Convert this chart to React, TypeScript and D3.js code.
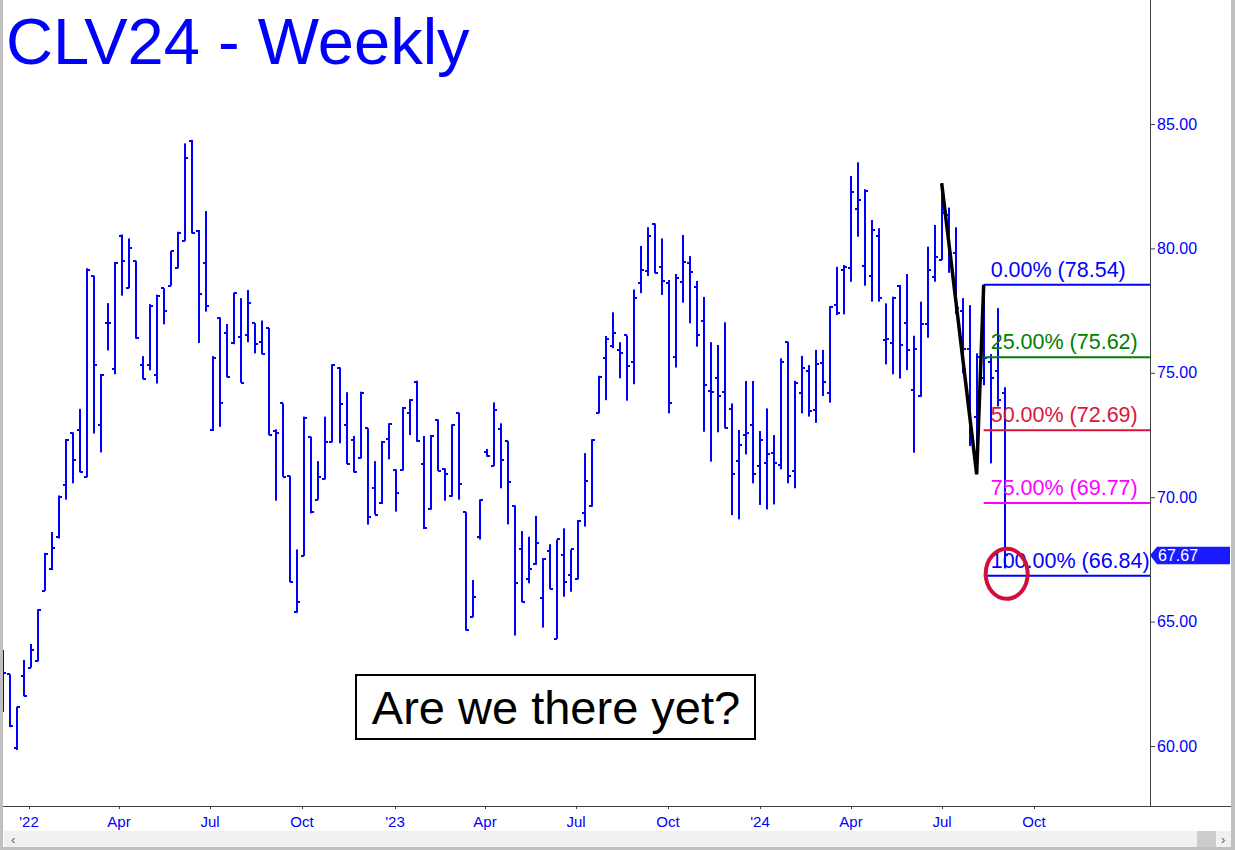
import React from "react";
import * as d3 from "d3";

// Weekly OHLC, CLV24 (first bar week of 6 Dec 2021)
const opens = [63.5,62.88,59.9,62.8,63.15,63.4,66.25,67.1,68.4,70.5,72.6,72.7,70.8,78.9,72.9,77.0,75.15,80.5,78.4,79.5,75.3,75.3,74.9,78.4,78.5,79.2,80.3,84.3,80.7,79.4,72.7,77.2,76.59,76.2,76.45,76.52,77.0,76.24,76.8,72.67,73.77,70.86,65.39,67.64,72.4,69.9,70.75,72.2,75.2,72.9,72.3,71.58,72.77,70.36,69.75,72.33,71.1,71.1,73.4,74.65,71.32,69.52,73.1,71.15,70.03,73.4,69.4,65.2,68.4,71.8,71.26,72.74,72.25,69.65,67.9,66.71,67.3,65.94,67.84,64.32,67.68,66.87,66.7,69.35,69.65,73.4,75.58,76.08,75.92,76.5,75.43,78.62,79.09,81.0,79.24,78.6,75.65,78.66,79.4,78.44,77.08,74.28,74.78,74.22,73.54,71.45,72.5,72.9,71.27,71.38,71.77,71.3,76.25,71.05,74.2,75.07,73.5,75.38,74.17,77.72,79.15,79.2,81.57,79.3,78.89,80.5,76.32,76.2,78.5,76.99,74.31,74.05,76.96,78.86,79.55,81.34,79.8,77.5,75.94,73.24,74.8,75.45,75.09,74.2];
const highs = [63.86,62.88,61.58,63.46,64.1,65.5,67.76,68.6,70.07,72.34,72.6,73.55,79.2,78.9,74.95,77.8,79.45,80.56,80.4,79.5,75.67,77.76,78.14,78.4,79.9,80.67,84.22,84.36,80.74,81.5,75.67,77.23,76.96,78.22,78.0,78.33,77.0,77.1,76.8,72.73,73.77,70.86,67.9,73.24,72.43,71.45,73.24,75.34,75.22,74.22,72.46,74.24,72.77,71.45,72.26,72.97,71.12,73.62,73.94,74.68,72.46,72.5,73.13,71.16,72.93,73.4,69.4,66.67,69.91,71.94,73.81,72.97,72.26,69.67,68.64,68.41,69.25,67.55,68.11,68.3,68.75,67.9,69.08,71.77,72.33,74.88,76.48,77.43,76.23,76.5,78.35,80.1,80.85,81.0,80.4,78.73,78.97,80.54,79.69,78.69,78.05,76.23,76.12,77.03,73.77,72.7,74.67,74.67,72.66,73.57,72.5,75.58,76.25,74.68,75.68,75.31,75.92,75.92,77.68,79.26,79.33,82.91,83.46,82.38,81.14,80.81,77.79,78.06,78.53,78.97,76.49,77.86,80.07,80.94,82.62,81.64,80.85,78.0,77.72,75.78,78.54,75.75,77.6,74.42];
const lows = [61.37,60.76,59.84,62.0,63.15,63.4,66.23,67.07,68.34,69.9,70.56,71.0,70.8,72.56,71.8,75.9,74.94,78.1,78.4,76.37,74.75,75.1,74.57,76.95,78.5,79.2,80.3,80.6,76.2,77.46,72.66,72.83,74.82,76.15,74.6,76.23,75.78,75.74,72.5,69.86,70.82,66.58,65.36,67.64,69.35,69.9,70.72,72.2,72.17,71.33,70.99,71.56,68.9,69.3,69.73,71.52,69.42,71.07,72.5,72.23,68.72,69.5,71.06,69.86,70.02,69.9,64.64,65.17,68.3,71.63,71.25,70.36,68.91,64.44,65.78,66.54,67.28,64.76,66.31,64.3,66.0,66.2,66.7,68.82,69.62,73.37,73.9,75.99,74.78,73.88,74.54,78.2,78.89,79.0,78.13,73.37,75.21,77.82,76.99,76.05,72.63,71.43,72.61,72.77,69.28,69.11,71.72,70.56,69.69,69.51,69.71,71.12,70.56,70.36,73.37,73.24,72.99,74.07,73.8,77.32,77.35,78.66,80.47,78.5,77.86,77.86,75.34,74.94,74.77,75.11,71.79,74.04,76.41,78.66,79.53,79.02,77.36,74.98,72.06,70.92,74.5,71.36,73.65,67.14];
const closes = [62.93,60.8,61.55,62.0,63.84,65.45,67.7,67.95,70.0,72.3,71.5,71.0,79.15,75.3,74.9,77.0,79.4,79.5,80.0,76.4,74.75,77.7,78.1,77.5,79.9,80.6,83.62,80.6,78.16,77.68,75.6,73.8,74.82,78.2,74.6,77.8,76.15,75.74,72.5,72.6,70.82,66.6,65.78,73.2,69.4,70.83,72.23,75.3,73.75,71.33,71.0,74.2,69.2,69.3,72.2,72.95,70.16,73.6,73.9,72.25,68.75,72.45,71.06,70.92,72.9,70.52,64.65,65.98,69.9,71.65,73.5,71.5,70.6,66.54,65.78,67.1,68.15,67.5,66.31,68.3,66.58,67.9,69.05,70.65,72.3,74.85,76.35,76.59,75.78,75.27,77.99,79.13,80.5,79.0,78.69,73.8,78.8,79.47,79.06,76.52,74.51,74.22,74.07,72.77,70.93,72.1,72.57,70.93,72.3,71.72,71.36,75.42,70.85,74.58,75.18,73.46,75.35,74.62,77.65,77.39,79.25,82.28,81.95,82.3,80.74,78.0,76.36,78.0,76.12,75.92,75.94,76.96,79.13,79.64,81.41,79.8,77.6,75.95,72.3,75.65,75.6,74.78,73.9,67.67];

const yTicks = [60, 65, 70, 75, 80, 85];
const xTickDates = ["2022-01-01","2022-04-01","2022-07-01","2022-10-01","2023-01-01","2023-04-01","2023-07-01","2023-10-01","2024-01-01","2024-04-01","2024-07-01","2024-10-01"];
const xTickLabels = ["'22","Apr","Jul","Oct","'23","Apr","Jul","Oct","'24","Apr","Jul","Oct"];

// swing drawn in black: bar index and price
const swingIdx = [134, 139, 140];
const swingVals = [82.62, 70.92, 78.54];

const fibPct = ["0.00%", "25.00%", "50.00%", "75.00%", "100.00%"];
const fibLevels = [78.54, 75.62, 72.69, 69.77, 66.84];
const fibColors = ["#0000ff", "#008000", "#dc143c", "#ff00ff", "#0000ff"];

const lastPrice = 67.67;

const W = 1235, H = 850;
const BLUE = "#0000ff";
const FONT = "'Liberation Sans', Arial, sans-serif";

export default function App() {
  const start = new Date(2021, 11, 6);
  const dates = opens.map((_, i) => d3.timeDay.offset(start, 7 * i));
  const x = d3.scaleTime()
    .domain([dates[0], dates[dates.length - 1]])
    .range([3.4, 1004.7]);
  const y = d3.scaleLinear().domain([60, 85]).range([746, 124]);
  const axisX = 1150;
  const axisY = 806;

  const swingLine = d3.line<number>()
    .x((i) => x(dates[swingIdx[i]]))
    .y((i) => y(swingVals[i]))(swingIdx.map((_, i) => i));

  const fibX0 = x(dates[140]);
  const lastX = x(dates[dates.length - 1]);
  const lastY = y(lastPrice);

  return (
    <svg width={W} height={H} style={{ position: "fixed", left: 0, top: 0, background: "#fff" }}
      fontFamily={FONT}>
      <rect x={0} y={0} width={W} height={H} fill="#fff" />
      {/* title */}
      <text x={6} y={64} fontSize={65} fill={BLUE}>CLV24 - Weekly</text>

      {/* bars */}
      <g fill={BLUE}>
        {dates.map((d, i) => {
          const cx = Math.round(x(d));
          const yh = y(highs[i]);
          const yl = y(lows[i]);
          const yo = Math.round(y(opens[i]));
          const yc = Math.round(y(closes[i]));
          return (
            <g key={i}>
              <rect x={cx - 1} y={yh} width={2} height={Math.max(2, yl - yh)} />
              <rect x={cx - 3} y={yo - 1} width={3} height={2} />
              <rect x={cx} y={yc - 1} width={3} height={2} />
            </g>
          );
        })}
      </g>

      {/* fib levels */}
      {fibLevels.map((v, i) => (
        <g key={i}>
          <line x1={fibX0} x2={axisX} y1={y(v)} y2={y(v)} stroke={fibColors[i]} strokeWidth={2} />
          <text x={fibX0 + 7} y={y(v) - 8} fontSize={21.5} fill={fibColors[i]}>
            {`${fibPct[i]} (${v.toFixed(2)})`}
          </text>
        </g>
      ))}

      {/* swing line */}
      <path d={swingLine || ""} fill="none" stroke="#000" strokeWidth={3.5} strokeLinejoin="miter" />

      {/* red circle */}
      <ellipse cx={lastX + 2} cy={y(fibLevels[4]) - 2} rx={21} ry={25} fill="none" stroke="#d0103a" strokeWidth={4} />

      {/* right axis */}
      <line x1={axisX + 0.5} x2={axisX + 0.5} y1={0} y2={axisY} stroke="#404040" strokeWidth={1} />
      {yTicks.map((t) => (
        <g key={t}>
          <line x1={axisX} x2={axisX + 5} y1={y(t) + 0.5} y2={y(t) + 0.5} stroke="#404040" />
          <text x={axisX + 7} y={y(t) + 5.5} fontSize={16} fill={BLUE}>{t.toFixed(2)}</text>
        </g>
      ))}

      {/* last price marker */}
      <path d={`M${axisX},${lastY} L${axisX + 7},${lastY - 8.5} L1230,${lastY - 8.5} L1230,${lastY + 9} L${axisX + 7},${lastY + 9} Z`} fill="#1a1aff" />
      <text x={axisX + 8} y={lastY + 5.5} fontSize={16} fill="#fff">{lastPrice.toFixed(2)}</text>

      {/* bottom axis */}
      <line x1={0} x2={1231} y1={axisY + 0.5} y2={axisY + 0.5} stroke="#404040" strokeWidth={1} />
      {xTickDates.map((s, i) => {
        const px = Math.round(x(new Date(s + "T00:00:00")));
        return (
          <g key={s}>
            <line x1={px + 0.5} x2={px + 0.5} y1={axisY} y2={axisY + 3} stroke="#404040" />
            <text x={px} y={827} fontSize={15} fill={BLUE} textAnchor="middle">{xTickLabels[i]}</text>
          </g>
        );
      })}

      {/* annotation box */}
      <rect x={356} y={675} width={399} height={64} fill="#fff" stroke="#000" strokeWidth={2} />
      <text x={556} y={724} fontSize={47} fill="#000" textAnchor="middle">Are we there yet?</text>

      {/* scrollbar */}
      <rect x={4} y={831} width={1227} height={16} fill="#f0f0f0" />
      <rect x={1197} y={831} width={19} height={16} fill="#cdcdcd" />
      <text x={11} y={844} fontSize={13} fill="#606060">‹</text>
      <text x={1221} y={844} fontSize={13} fill="#606060">›</text>

      {/* window border */}
      <rect x={0} y={0} width={3} height={H} fill="#c0c0c0" />
      <rect x={1231} y={0} width={4} height={H} fill="#c0c0c0" />
      <rect x={0} y={847} width={W} height={3} fill="#c0c0c0" />
    </svg>
  );
}
